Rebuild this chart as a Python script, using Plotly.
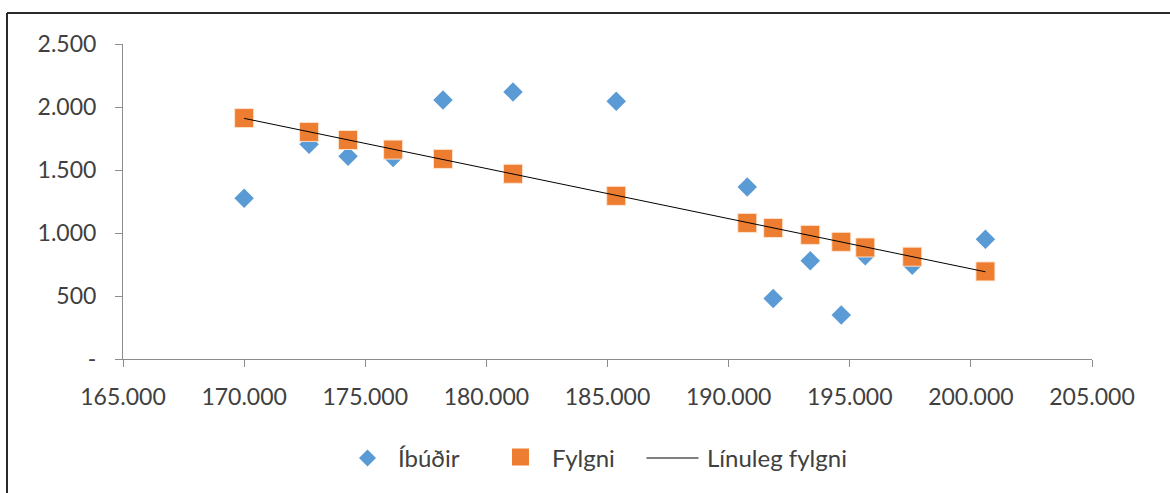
import numpy as np
import plotly.graph_objects as go

# Data
x_vals = [170000, 172680, 174290, 176150, 178210, 181100, 185360,
          190770, 191840, 193370, 194650, 195640, 197580, 200600]
ibudir = [1275, 1705, 1610, 1600, 2055, 2120, 2045,
          1365, 480, 780, 350, 820, 745, 950]
fylgni = [1912, 1802, 1738, 1662, 1588, 1470, 1295,
          1080, 1040, 985, 930, 885, 812, 695]
series_names = ["Íbúðir", "Fylgni", "Línuleg fylgni"]

y_tickvals = [0, 500, 1000, 1500, 2000, 2500]
y_ticktext = ["-", "500", "1.000", "1.500", "2.000", "2.500"]
x_tickvals = [165000, 170000, 175000, 180000, 185000, 190000, 195000, 200000, 205000]
x_ticktext = ["165.000", "170.000", "175.000", "180.000", "185.000",
              "190.000", "195.000", "200.000", "205.000"]

# Linear trendline fitted on the Fylgni series
slope, intercept = np.polyfit(x_vals, fylgni, 1)
trend_x = [min(x_vals), max(x_vals)]
trend_y = [slope * v + intercept for v in trend_x]

FONT = "Lato"
TXT = "#404040"
AXIS_COLOR = "#8c8c8c"
BLUE = "#5B9BD5"
ORANGE = "#ED7D31"

W, H = 1170, 493
ML, MR, MT, MB = 123, 78, 44, 134
PW, PH = W - ML - MR, H - MT - MB


def px(xp):
    return (xp - ML) / PW


def py(yp):
    return (H - MB - yp) / PH


fig = go.Figure()
fig.add_trace(go.Scatter(
    x=x_vals, y=ibudir, mode="markers", name=series_names[0],
    marker=dict(symbol="diamond", size=15, color=BLUE, line=dict(width=0)),
))
fig.add_trace(go.Scatter(
    x=x_vals, y=fylgni, mode="markers", name=series_names[1],
    marker=dict(symbol="square", size=19, color=ORANGE,
                line=dict(width=1, color="rgba(255,230,210,0.9)")),
))
fig.add_trace(go.Scatter(
    x=trend_x, y=trend_y, mode="lines", name=series_names[2],
    line=dict(color="#000000", width=1),
))

# Manual legend (symbols as pixel-sized shapes, labels as annotations)
LEG_Y = 458
shapes = [
    # chart border (top and left edges visible)
    dict(type="line", xref="paper", yref="paper",
         x0=px(7), x1=1.2, y0=py(13), y1=py(13),
         line=dict(color="#2a2a2a", width=2)),
    dict(type="line", xref="paper", yref="paper",
         x0=px(7), x1=px(7), y0=py(13), y1=-0.6,
         line=dict(color="#2a2a2a", width=2)),
    # legend: diamond
    dict(type="path", xref="paper", yref="paper",
         xsizemode="pixel", ysizemode="pixel",
         xanchor=px(367.5), yanchor=py(LEG_Y),
         path="M 0,-8.5 L 8.5,0 L 0,8.5 L -8.5,0 Z",
         fillcolor=BLUE, line=dict(width=0)),
    # legend: square
    dict(type="path", xref="paper", yref="paper",
         xsizemode="pixel", ysizemode="pixel",
         xanchor=px(520.5), yanchor=py(LEG_Y - 1),
         path="M -8.5,-8.5 L 8.5,-8.5 L 8.5,8.5 L -8.5,8.5 Z",
         fillcolor=ORANGE, line=dict(width=0)),
    # legend: line
    dict(type="line", xref="paper", yref="paper",
         x0=px(646.5), x1=px(698.5), y0=py(LEG_Y), y1=py(LEG_Y),
         line=dict(color="#000000", width=1)),
]

annotations = []
for name, xp in zip(series_names, [396, 550, 705]):
    annotations.append(dict(
        text=name, xref="paper", yref="paper", x=px(xp), y=py(LEG_Y - 1),
        xanchor="left", yanchor="middle", showarrow=False,
        font=dict(family=FONT, size=24, color=TXT),
    ))

fig.update_layout(
    width=W, height=H,
    margin=dict(l=ML, r=MR, t=MT, b=MB),
    paper_bgcolor="white", plot_bgcolor="white",
    font=dict(family=FONT, size=23, color=TXT),
    showlegend=False,
    xaxis=dict(range=[165000, 205000], tickvals=x_tickvals, ticktext=x_ticktext,
               showgrid=False, zeroline=False, showline=True, linecolor=AXIS_COLOR,
               linewidth=1, ticks="outside", ticklen=7, tickcolor=AXIS_COLOR,
               ticklabelstandoff=10,
               tickfont=dict(family=FONT, size=23, color=TXT)),
    yaxis=dict(range=[0, 2500], tickvals=y_tickvals, ticktext=y_ticktext,
               showgrid=False, zeroline=False, showline=True, linecolor=AXIS_COLOR,
               linewidth=1, ticks="outside", ticklen=7, tickcolor=AXIS_COLOR,
               ticklabelstandoff=14,
               tickfont=dict(family=FONT, size=23, color=TXT)),
    shapes=shapes,
    annotations=annotations,
)

fig.write_html("out.html")
